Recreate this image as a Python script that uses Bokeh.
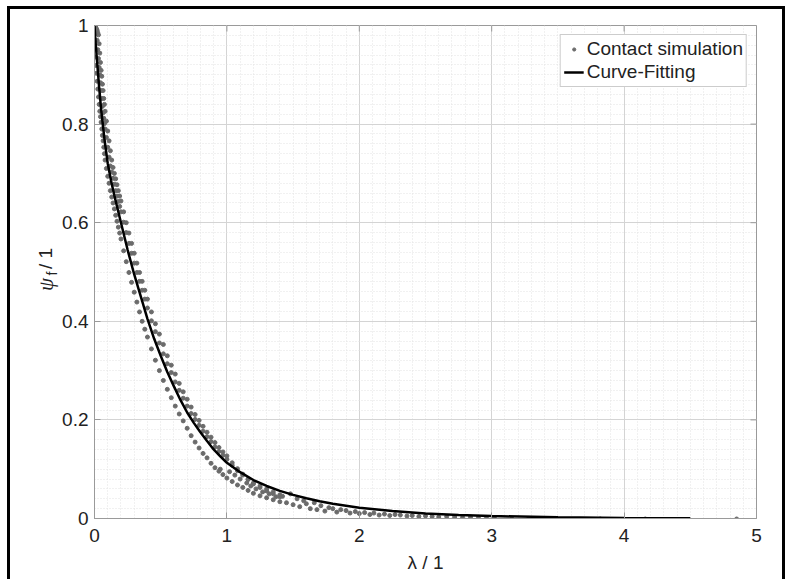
import math
from bokeh.plotting import figure
from bokeh.models import (Range1d, SingleIntervalTicker, CustomJSTickFormatter,
                          Label, Legend, LegendItem)
from bokeh.embed import file_html
from bokeh.resources import INLINE

# ---- data ----
x_ticks = [0, 1, 2, 3, 4, 5]
y_ticks = [0, 0.2, 0.4, 0.6, 0.8, 1.0]

fit_lambda = [0, 0.01, 0.02, 0.035, 0.05, 0.075, 0.1, 0.125, 0.15, 0.2, 0.25, 0.3, 0.35, 0.4,
              0.45, 0.5, 0.55, 0.6, 0.65, 0.7, 0.75, 0.8, 0.85, 0.9, 0.95, 1.0, 1.1, 1.2, 1.3,
              1.4, 1.5, 1.6, 1.7, 1.8, 1.9, 2.0, 2.25, 2.5, 2.75, 3.0, 3.5, 4.0, 4.5]
fit_psi = [1.0, 0.96, 0.925, 0.875, 0.83, 0.77, 0.72, 0.685, 0.655, 0.60, 0.545, 0.495, 0.45,
           0.405, 0.365, 0.33, 0.297, 0.268, 0.24, 0.215, 0.194, 0.175, 0.157, 0.14, 0.126,
           0.113, 0.094, 0.078, 0.066, 0.056, 0.048, 0.041, 0.035, 0.030, 0.026, 0.022, 0.015,
           0.010, 0.007, 0.005, 0.0025, 0.0012, 0.0006]

band_lambda = [0.005, 0.01, 0.015, 0.02, 0.025, 0.03, 0.035, 0.04, 0.045, 0.05, 0.055, 0.06,
               0.065, 0.07, 0.075, 0.08, 0.09, 0.10, 0.11, 0.12, 0.13, 0.14, 0.15, 0.16, 0.17,
               0.18, 0.19, 0.20, 0.22, 0.24, 0.26, 0.28, 0.30, 0.32, 0.34, 0.36, 0.38, 0.40,
               0.43, 0.46, 0.49, 0.52, 0.55, 0.58, 0.61, 0.64, 0.67, 0.70, 0.73, 0.76, 0.79,
               0.82, 0.85, 0.88, 0.91, 0.94, 0.97, 1.00, 1.04, 1.08, 1.12, 1.16, 1.20, 1.25,
               1.30, 1.35, 1.40]
upper_psi = [0.997, 0.993, 0.985, 0.97, 0.951, 0.933, 0.915, 0.90, 0.884, 0.868, 0.852, 0.836,
             0.823, 0.812, 0.801, 0.79, 0.773, 0.753, 0.733, 0.715, 0.703, 0.69, 0.678, 0.665,
             0.654, 0.643, 0.633, 0.622, 0.601, 0.58, 0.558, 0.538, 0.518, 0.499, 0.481, 0.463,
             0.445, 0.427, 0.401, 0.379, 0.356, 0.334, 0.314, 0.296, 0.277, 0.26, 0.244, 0.228,
             0.213, 0.201, 0.189, 0.177, 0.166, 0.156, 0.145, 0.136, 0.128, 0.12, 0.108, 0.097,
             0.088, 0.08, 0.072, 0.066, 0.06, 0.054, 0.048]
outer_psi = [0.998, 0.996, 0.993, 0.99, 0.985, 0.981, 0.963, 0.944, 0.925, 0.909, 0.897, 0.881,
             0.868, 0.852, 0.84, 0.826, 0.806, 0.786, 0.766, 0.746, 0.727, 0.712, 0.70, 0.689,
             0.677, 0.665, 0.654, 0.644, 0.622, 0.60, 0.579, 0.558, 0.538, 0.518, 0.499, 0.481,
             0.463, 0.445, 0.419, 0.395, 0.374, 0.353, 0.33, 0.311, 0.293, 0.274, 0.257, 0.242,
             0.226, 0.211, 0.199, 0.187, 0.175, 0.165, 0.154, 0.144, 0.135, 0.127, 0.113, 0.101,
             0.09, 0.079, 0.07, 0.063, 0.056, 0.05, 0.044]
lower_psi = [0.936, 0.919, 0.903, 0.887, 0.871, 0.855, 0.84, 0.826, 0.815, 0.804, 0.79, 0.777,
             0.766, 0.753, 0.74, 0.727, 0.71, 0.694, 0.68, 0.665, 0.652, 0.64, 0.628, 0.615,
             0.603, 0.591, 0.579, 0.567, 0.543, 0.521, 0.499, 0.479, 0.459, 0.439, 0.419, 0.40,
             0.384, 0.368, 0.344, 0.321, 0.30, 0.28, 0.262, 0.245, 0.228, 0.212, 0.198, 0.183,
             0.168, 0.155, 0.143, 0.132, 0.123, 0.112, 0.103, 0.096, 0.089, 0.082, 0.075, 0.068,
             0.063, 0.057, 0.051, 0.046, 0.042, 0.038, 0.034]
tail_lambda = [0.95, 1.02, 1.06, 1.10, 1.15, 1.18, 1.22, 1.27, 1.32, 1.37, 1.42, 1.45, 1.48,
               1.50, 1.53, 1.55, 1.58, 1.60, 1.63, 1.66, 1.68, 1.71, 1.74, 1.77, 1.80, 1.83,
               1.86, 1.90, 1.93, 1.97, 2.00, 2.04, 2.08, 2.11, 2.15, 2.19, 2.23, 2.27, 2.31,
               2.36, 2.40, 2.45, 2.50, 2.55, 2.60, 2.66, 2.72, 2.78, 2.84, 2.90, 2.96, 3.02,
               3.15, 3.28, 3.48, 3.82, 4.16, 4.85]
tail_psi = [0.10, 0.095, 0.088, 0.08, 0.072, 0.066, 0.06, 0.054, 0.05, 0.044, 0.045, 0.032,
            0.05, 0.028, 0.04, 0.024, 0.036, 0.03, 0.02, 0.032, 0.018, 0.026, 0.015, 0.022,
            0.02, 0.013, 0.018, 0.016, 0.011, 0.014, 0.01, 0.012, 0.008, 0.011, 0.007, 0.009,
            0.006, 0.008, 0.007, 0.005, 0.006, 0.004, 0.005, 0.004, 0.003, 0.004, 0.003, 0.002,
            0.003, 0.002, 0.002, 0.001, 0.0, 0.0, 0.0, -0.001, -0.001, -0.001]

sim_lambda = band_lambda + band_lambda + band_lambda + tail_lambda
sim_psi = upper_psi + outer_psi + lower_psi + tail_psi

FONT = "Liberation Sans"
AX = "#9a9a9a"
TXT = "#222222"

p = figure(width=785, height=579, x_range=Range1d(0, 5), y_range=Range1d(0, 1),
           output_backend="svg", toolbar_location=None,
           min_border_left=94, min_border_right=29, min_border_top=25, min_border_bottom=61)
# thick black frame around the picture (top, left, right)
p.styles = {"box-shadow": "inset 7px 6px 0 0 #ffffff, inset 10px 9px 0 0 #000000, "
                          "inset -3px 0 0 0 #000000"}
p.background_fill_color = "white"
p.border_fill_alpha = 0
p.outline_line_color = AX
p.outline_line_width = 1

p.xaxis.ticker = SingleIntervalTicker(interval=1, num_minor_ticks=10)
p.yaxis.ticker = SingleIntervalTicker(interval=0.2, num_minor_ticks=10)
p.yaxis.formatter = CustomJSTickFormatter(code="return Number(tick.toFixed(2)).toString();")

for ax in (p.xaxis[0], p.yaxis[0]):
    ax.axis_line_color = AX
    ax.major_tick_line_color = AX
    ax.major_tick_in = 6
    ax.major_tick_out = 0
    ax.minor_tick_in = 0
    ax.minor_tick_out = 0
    ax.major_label_text_font = FONT
    ax.major_label_text_font_size = "19px"
    ax.major_label_text_color = TXT
p.yaxis.major_label_standoff = 6
p.xaxis.major_label_standoff = 10
p.xaxis.axis_label = "λ / 1"
p.xaxis.axis_label_text_font = FONT
p.xaxis.axis_label_text_font_size = "19px"
p.xaxis.axis_label_text_font_style = "normal"
p.xaxis.axis_label_text_color = TXT
p.xaxis.axis_label_standoff = 7

for g in (p.xgrid[0], p.ygrid[0]):
    g.grid_line_color = "#d4d4d4"
    g.grid_line_width = 1
    g.minor_grid_line_color = "#e2e2e2"
    g.minor_grid_line_dash = "1 2"
    g.minor_grid_line_width = 1

# inward tick marks on the top and right edges of the box
p.ray(x=x_ticks, y=1, length=6, length_units="screen", angle=-math.pi / 2,
      line_color=AX, line_width=1)
p.ray(x=5, y=y_ticks, length=6, length_units="screen", angle=math.pi,
      line_color=AX, line_width=1)

r_sim = p.scatter(sim_lambda, sim_psi, size=4, fill_color="#6b6b6b", line_color="#6b6b6b")
r_fit = p.line(fit_lambda, fit_psi, line_width=2.5, line_color="black")

legend = Legend(items=[LegendItem(label="Contact simulation", renderers=[r_sim]),
                       LegendItem(label="Curve-Fitting", renderers=[r_fit])],
                location="top_right", margin=9, padding=3, spacing=1,
                glyph_width=20, glyph_height=8, label_standoff=3, label_height=22,
                label_text_font=FONT, label_text_font_size="19px", label_text_color=TXT,
                border_line_color="#9a9a9a", border_line_width=1,
                background_fill_color="white", background_fill_alpha=1)
p.add_layout(legend)

# y-axis title: psi_f / 1 (rotated); placed in side panels so it is not clipped to the frame
p.add_layout(Label(x=45, y=258, x_units="canvas", y_units="canvas", text="/ 1",
                   angle=math.pi / 2, text_align="center", text_baseline="middle",
                   text_font=FONT, text_font_size="19px", text_color=TXT), "left")
p.add_layout(Label(x=45, y=284, x_units="canvas", y_units="canvas", text="ψ",
                   angle=math.pi / 2, text_align="center", text_baseline="middle",
                   text_font="Liberation Serif", text_font_style="italic",
                   text_font_size="21px", text_color=TXT), "right")
p.add_layout(Label(x=51, y=273, x_units="canvas", y_units="canvas", text="f",
                   angle=math.pi / 2, text_align="center", text_baseline="middle",
                   text_font=FONT, text_font_size="14px", text_color=TXT), "above")

open("out.html", "w").write(file_html(p, INLINE))
